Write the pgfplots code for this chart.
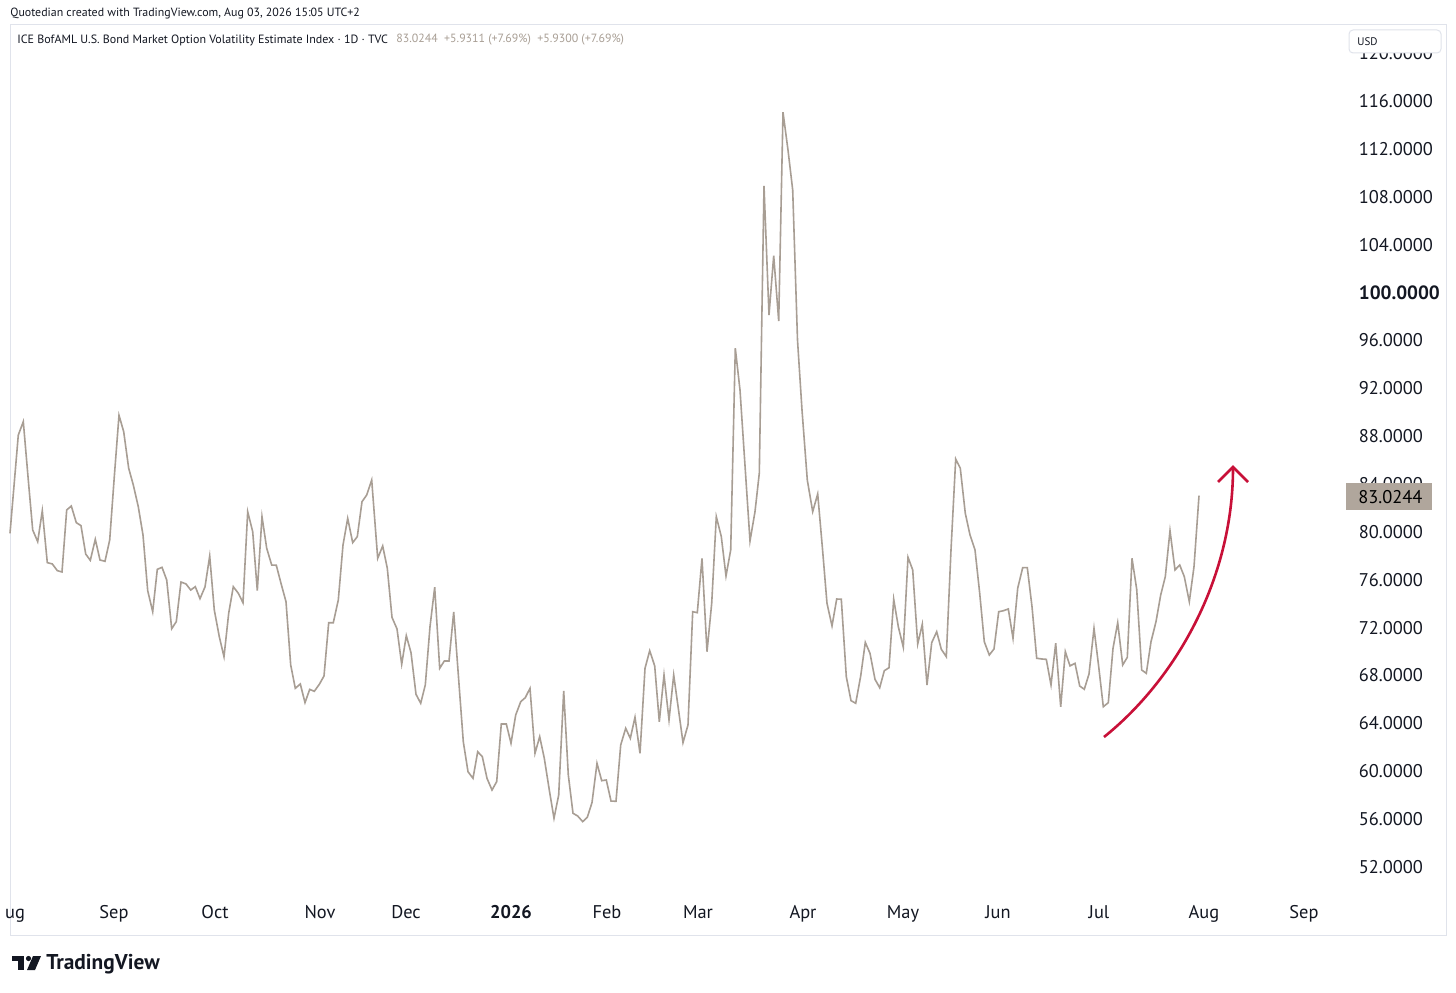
\documentclass[border=0pt]{standalone}
\usepackage{pgfplots}
\pgfplotsset{compat=1.18}
\usepackage{fontspec}
\setmainfont{PT Sans}
\usepackage{graphicx}
\definecolor{linec}{RGB}{168,158,148}
\definecolor{boxc}{RGB}{176,166,156}
\definecolor{arrowc}{RGB}{200,16,56}
\definecolor{txt}{RGB}{19,23,34}
\definecolor{framec}{RGB}{224,227,235}
\begin{document}
\begin{tikzpicture}
\path[use as bounding box, fill=white] (0,0) rectangle (728pt,496pt);
\begin{scope}[x=0.5pt,y=-0.5pt,yshift=496pt]
 \draw[framec, line width=0.5pt] (10,25) rectangle (1446,935);
\end{scope}
\begin{axis}[at={(5pt,48.5pt)}, anchor=south west, width=667.5pt, height=435pt, scale only axis,
 xmin=10, xmax=1345, ymin=49.66, ymax=122.35,
 axis line style={draw=none}, tick style={draw=none},
 xtick={15,114,215,320,406,511,607,698,803,903,998,1099,1204,1304},
 xticklabels={ug,Sep,Oct,Nov,Dec,\textbf{2026},Feb,Mar,Apr,May,Jun,Jul,Aug,Sep},
 ytick={52,56,60,64,68,72,76,80,84,88,92,96,100,104,108,112,116,120},
 yticklabels={52.0000,56.0000,60.0000,64.0000,68.0000,72.0000,76.0000,80.0000,84.0000,88.0000,92.0000,96.0000,{\fontsize{9.6}{11}\selectfont\bfseries 100.0000},104.0000,108.0000,112.0000,116.0000,120.0000},
 yticklabel pos=right,
 ticklabel style={font=\fontsize{9.2}{11}\selectfont, text=txt},
 yticklabel style={anchor=west, xshift=3.4pt},
 xticklabel style={anchor=base, yshift=-11.6pt},
 clip=false]
\addplot[linec, line width=0.8pt] coordinates {
(10,79.88)(18.3,88.09)(23.3,89.21)(28.3,84.33)(32.7,80.16)(37.7,79.18)(42.3,81.77)(47.3,77.43)(52.3,77.32)(57.3,76.76)
(62,76.65)(66.7,81.83)(71.3,82.16)(76.3,80.77)(81,80.52)(85.7,78.15)(90.3,77.62)(95.3,79.38)(100,77.65)(105,77.54)
(109.7,79.32)(114.3,84.61)(119,89.74)(123.7,88.37)(128.7,85.31)(133.3,83.92)(138.3,82.1)(143,79.74)(147.7,75.09)(152.7,73.33)
(157.3,76.87)(162,77.04)(166.7,75.98)(171.7,71.91)(176.3,72.5)(181,75.81)(186,75.65)(190.7,75.14)(195.3,75.42)(200,74.42)
(205,75.4)(209.7,77.98)(214.3,73.47)(219.3,71.24)(224,69.57)(228.7,73.2)(233.3,75.42)(238.3,74.87)(243,74.08)(247.7,81.69)
(252.7,80.02)(257.3,75.09)(262,81.27)(266.7,78.63)(271.7,77.23)(276.3,77.21)(281,75.7)(286,74.17)(290.7,68.88)(295.3,66.93)
(300.3,67.29)(305,65.73)(309.7,66.84)(314.3,66.68)(319.3,67.26)(324,67.96)(328.7,72.41)(333.3,72.41)(338.3,74.31)(343,78.9)
(347.7,81.13)(352.7,79.1)(357.3,79.6)(362,82.52)(366.7,83.08)(371.7,84.33)(377.7,77.79)(382.7,78.82)(387.3,76.96)(392,72.86)
(397,71.89)(401.7,68.94)(406.3,71.33)(411,69.91)(416,66.43)(420.7,65.68)(425.3,67.21)(430,72.08)(434.7,75.37)(439.7,68.6)
(444.3,69.21)(449,69.21)(453.7,73.31)(458.7,67.63)(463.3,62.47)(468,59.96)(473,59.41)(477.7,61.63)(482.3,61.22)(487,59.41)
(492,58.43)(496.7,59.13)(501.3,63.95)(506.3,63.95)(511,62.34)(515.7,64.7)(520.7,65.81)(525.3,66.15)(530,66.93)(535,61.5)
(539.7,62.89)(544.3,61.08)(549.3,58.43)(554,56.07)(558.7,58.02)(563.7,66.71)(568.3,59.69)(573,56.49)(577.7,56.26)(582.7,55.79)
(587.3,56.15)(592,57.38)(597,60.66)(601.7,59.21)(606.3,59.27)(611,57.51)(616,57.49)(620.7,62.19)(625.7,63.59)(630.3,62.75)
(635,64.51)(640,61.5)(645,68.6)(649.7,70.07)(654.7,68.8)(659.3,64.14)(664,68.04)(669,64.28)(673.7,68.04)(678.3,65.26)
(683,62.39)(688,63.87)(692.7,73.33)(697.3,73.25)(702,77.79)(707,69.99)(711.7,74.03)(716.3,81.27)(721.3,79.6)(726,76.31)
(730.7,78.49)(735.3,95.34)(740,91.85)(750,79.24)(755,81.69)(759.3,84.9)(764,108.9)(769,98.12)(773.7,103.07)(778.7,97.62)
(783,115.06)(788,111.9)(792.7,108.56)(797.5,96.03)(802,90.18)(807.3,84.33)(812.7,81.69)(817.7,83.17)(822.3,78.76)(827,74.03)
(832,72.14)(836.7,74.39)(841.3,74.37)(846.3,67.9)(851,65.9)(855.7,65.68)(860.7,67.96)(865.3,70.77)(870,69.85)(875,67.68)
(879.7,66.98)(884.3,68.4)(889,68.65)(893.7,74.37)(898.3,72.08)(903.3,70.36)(908,77.88)(912.7,76.82)(917.7,70.63)(922.3,72.28)
(927,67.21)(931.7,70.74)(936.7,71.66)(941.3,70.19)(946.3,69.57)(951,78.49)(955.7,86.09)(960.3,85.31)(965.3,81.55)(970,79.74)
(975,78.49)(979.7,74.87)(984.3,70.82)(989.3,69.71)(994,70.22)(998.7,73.33)(1003.3,73.41)(1008.3,73.56)(1013,71.11)(1017.7,75.29)
(1022.7,77.01)(1027.3,77.01)(1032,73.75)(1036.7,69.44)(1041.7,69.38)(1046.3,69.35)(1051,67.21)(1055.7,70.69)(1060.7,65.39)(1065.3,69.99)
(1070,68.8)(1075,69.02)(1079.7,67.12)(1084.3,66.85)(1089,68.13)(1094,71.94)(1098.7,68.74)(1103.3,65.39)(1108.3,65.73)(1113,70.27)
(1117.7,72.41)(1122.7,68.88)(1127.3,69.52)(1132,77.79)(1136.7,75.2)(1141.7,68.46)(1146.3,68.18)(1151,70.82)(1156,72.5)(1160.7,74.73)
(1165.3,76.26)(1170,80.1)(1175,76.82)(1179.7,77.23)(1184.3,76.26)(1189.3,74.17)(1194,77.09)(1199,83.0244)
};
\end{axis}
\begin{scope}[x=0.5pt,y=-0.5pt,yshift=496pt]
 % header
 \node[anchor=west, inner sep=0, font=\fontsize{5.95}{7}\selectfont, text=txt] at (10,14) {Quotedian created with TradingView.com, Aug 03, 2026 15:05 UTC+2};
 \node[anchor=west, inner sep=0, font=\fontsize{6.0}{7}\selectfont, text=txt] at (17,40) {ICE BofAML U.S. Bond Market Option Volatility Estimate Index · 1D · TVC};
 \node[anchor=west, inner sep=0, font=\fontsize{5.95}{7}\selectfont, text=linec] at (396,40) {83.0244\ \ +5.9311 (+7.69\%)\ \ +5.9300 (+7.69\%)};
 % USD box
 \draw[framec, fill=white, rounded corners=2pt, line width=0.5pt] (1349,30) rectangle (1441,53);
 \node[anchor=west, inner sep=0, font=\fontsize{5.5}{6}\selectfont, text=txt] at (1357,42) {USD};
 % price box
 \fill[boxc] (1346,483) rectangle (1432,510);
 \node[anchor=west, inner sep=0, font=\fontsize{9.2}{11}\selectfont, text=black] at (1358,497) {83.0244};
 % red arrow
 \draw[arrowc, line width=1.3pt] (1104,737) .. controls (1175,680) and (1233,580) .. (1233,468);
 \draw[arrowc, line width=1.3pt] (1218,482) -- (1233,467) -- (1248,482);
 % logo
 \fill[txt] (12,956) rectangle (24,961);
 \fill[txt] (18,956) rectangle (24,970);
 \fill[txt] (28.5,958.5) circle (2.6);
 \fill[txt] (33,956) -- (41,956) -- (35,970) -- (27,970) -- cycle;
 \node[anchor=west, inner sep=0, font=\fontsize{10.7}{12}\bfseries, text=txt] at (46,964) {TradingView};
\end{scope}
\end{tikzpicture}
\end{document}
